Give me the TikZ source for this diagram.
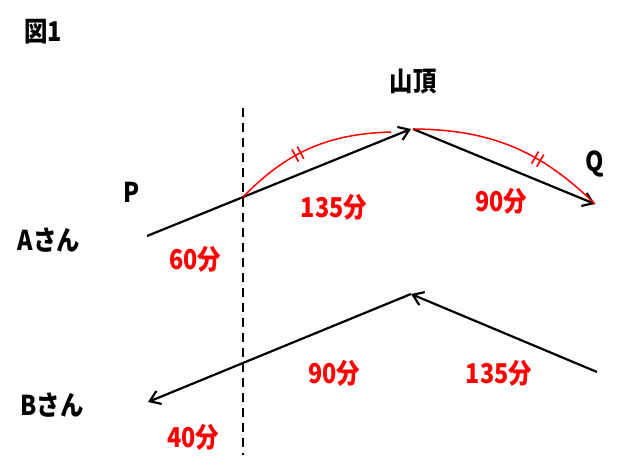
\documentclass[tikz,border=0pt]{standalone}
\usepackage{fontspec}
\setmainfont{Noto Sans CJK JP}[BoldFont={* Black}]
\usetikzlibrary{arrows.meta,decorations.markings}
\tikzset{
  lbl/.style={font=\bfseries\fontsize{26}{30}\selectfont, inner sep=0pt, xscale=0.9, yscale=1.05},
  num/.style={lbl, text=red},
  path/.style={line width=2.2pt, black, -{Straight Barb[length=10pt,width=14pt,line width=2.2pt]}},
  guide/.style={line width=1.6pt, dashed, dash pattern=on 9pt off 6pt},
  eqarc/.style={red, line width=1.5pt},
  ticks/.style={postaction={decorate}, decoration={markings, mark=at position #1 with {\draw[red, line width=1.6pt] (-3pt,-7pt)--(-3pt,7pt) (3pt,-7pt)--(3pt,7pt);}}}
}
\begin{document}
\begin{tikzpicture}[x=1pt,y=-1pt]
\useasboundingbox (0,0) rectangle (641,473);
% labels
\node[lbl] (fig) at (43,32) {図1};
\node[lbl] (top) at (413,82) {山頂};
\node[lbl] (P) at (132,192) {P};
\node[lbl] (Q) at (595,164) {Q};
\node[lbl] (A) at (49,240) {Aさん};
\node[lbl] (B) at (52,405) {Bさん};
\node[num] (a60) at (195,259) {60分};
\node[num] (a135) at (334,207) {135分};
\node[num] (a90) at (501,201) {90分};
\node[num] (b90) at (334,373) {90分};
\node[num] (b135) at (499,373) {135分};
\node[num] (b40) at (193,437) {40分};
% guide line
\coordinate (G1) at (243,108);
\coordinate (G2) at (243,455);
\draw[guide] (G1) -- (G2);
% A path
\coordinate (A0) at (147,236);
\coordinate (AX) at (243,197);
\coordinate (AP) at (411,129);
\coordinate (AP2) at (413,129);
\coordinate (AQ) at (595,204);
\coordinate (AR) at (391,132);
\draw[path] (A0) -- (AP);
\draw[path] (AP2) -- (AQ);
% equal arcs
\draw[eqarc, ticks=0.42] (AX) to[bend left=22] (AR);
\draw[eqarc, ticks=0.64] (AP2) to[bend left=22] (AQ);
% B path
\coordinate (B0) at (597,372);
\coordinate (BP) at (411,294);
\coordinate (BE) at (148,402);
\draw[path] (B0) -- (BP);
\draw[path] (BP) -- (BE);
\end{tikzpicture}
\end{document}
